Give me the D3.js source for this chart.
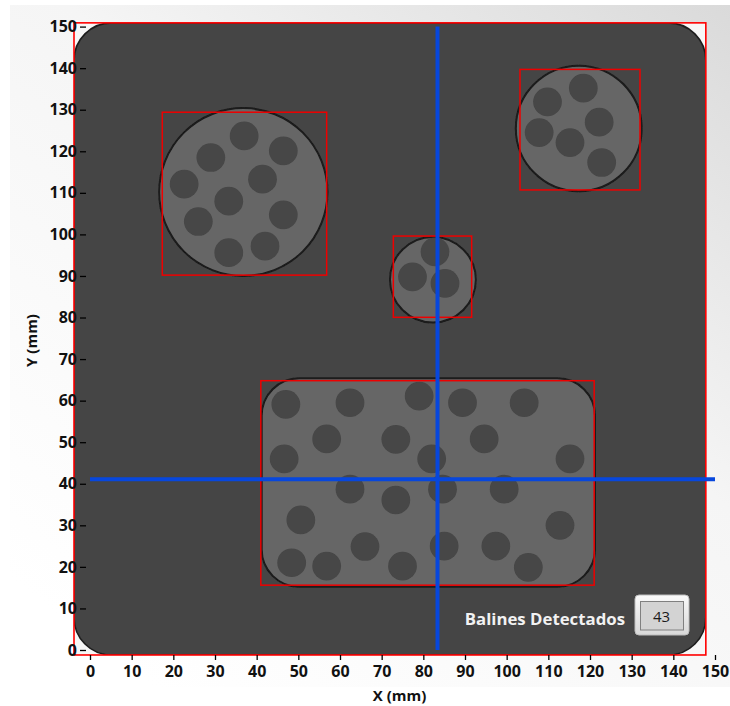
<!DOCTYPE html>
<html><head><meta charset="utf-8">
<script src="https://cdn.jsdelivr.net/npm/d3@7"></script>
<style>html,body{margin:0;padding:0;background:#fff;} svg{display:block;}</style>
</head><body><svg id="c" width="730" height="706"></svg>
<script>
// ---- data (all in mm) ----
const xTicks = [0,10,20,30,40,50,60,70,80,90,100,110,120,130,140,150];
const yTicks = [0,10,20,30,40,50,60,70,80,90,100,110,120,130,140,150];
const trayBounds = [-3.84, -1.2, 147.8, 150.9]; // x0, y0, x1, y1
const circleParts = [ // cx, cy, r
  [36.8, 110.2, 20.2],
  [117.3, 125.5, 15.1],
  [82.3, 89.1, 10.3]
];
const rectParts = [ // x0, y0, x1, y1
  [41.2, 15.2, 121.2, 65.4]
];
const balls = [ // cx, cy
  [37.0,123.7],[46.4,120.1],[29.0,118.5],[41.4,113.3],[22.6,112.1],
  [33.3,108.0],[46.4,104.7],[26.0,103.1],[42.0,97.2],[33.3,95.6],
  [118.4,135.2],[109.8,131.9],[122.2,127.0],[107.8,124.5],[115.2,122.1],[122.8,117.3],
  [82.8,95.8],[77.4,89.8],[85.2,88.2],
  [47.0,59.1],[62.4,59.5],[79.0,61.1],[89.4,59.5],[104.2,59.5],
  [56.8,50.8],[73.4,50.7],[94.6,50.8],
  [46.6,46.0],[82.0,46.0],[115.2,46.0],
  [62.4,38.7],[73.4,36.1],[84.6,38.7],[99.4,38.7],
  [50.6,31.3],[112.8,30.0],
  [66.0,24.9],[85.0,25.0],[97.4,25.0],
  [48.4,21.0],[56.8,20.2],[75.0,20.2],[105.2,19.9]
];
const ballRadius = 3.45;
const detections = [ // x0, y0, x1, y1
  [17.35, 90.2, 56.8, 129.4],
  [103.2, 110.7, 132.0, 139.7],
  [72.8, 80.05, 91.6, 99.6],
  [41.0, 15.6, 121.0, 64.8]
];
const crosshair = [83.4, 41.1];
const countLabel = "Balines Detectados";
const countValue = balls.length; // 43

// ---- drawing ----
const svg = d3.select("#c");
const x = d3.scaleLinear().domain([0,150]).range([90,715]);
const y = d3.scaleLinear().domain([0,150]).range([650,26.6]);
const font = "'Open Sans', 'DejaVu Sans', sans-serif";

const defs = svg.append("defs");
const bg = defs.append("linearGradient").attr("id","bg")
  .attr("x1",0.2).attr("y1",1).attr("x2",1).attr("y2",0);
bg.append("stop").attr("offset",0).attr("stop-color","#ffffff");
bg.append("stop").attr("offset",0.55).attr("stop-color","#f5f5f5");
bg.append("stop").attr("offset",1).attr("stop-color","#dadada");
defs.append("filter").attr("id","soft").attr("x","-20%").attr("y","-20%").attr("width","140%").attr("height","140%")
  .append("feGaussianBlur").attr("stdDeviation",0.7);
const btn = defs.append("linearGradient").attr("id","btn").attr("x1",0).attr("y1",0).attr("x2",0).attr("y2",1);
btn.append("stop").attr("offset",0).attr("stop-color","#fafafa");
btn.append("stop").attr("offset",1).attr("stop-color","#d8d8d8");

svg.append("rect").attr("width",730).attr("height",706).attr("fill","#fff");
svg.append("rect").attr("x",10).attr("y",5).attr("width",720).attr("height",682).attr("fill","url(#bg)");

const fx0 = x(trayBounds[0]), fx1 = x(trayBounds[2]);
const fy0 = y(trayBounds[3]), fy1 = y(trayBounds[1]);
defs.append("clipPath").attr("id","clip").append("rect")
  .attr("x",fx0).attr("y",fy0).attr("width",fx1-fx0).attr("height",fy1-fy0);

const plot = svg.append("g").attr("clip-path","url(#clip)");
plot.append("rect").attr("x",fx0).attr("y",fy0).attr("width",fx1-fx0).attr("height",fy1-fy0).attr("fill","#f7f7f7");
const trayR = x(9) - x(0);
plot.append("rect").attr("x",fx0).attr("y",fy0).attr("width",fx1-fx0).attr("height",fy1-fy0)
  .attr("rx",trayR).attr("ry",trayR).attr("fill","#444444")
  .attr("stroke","#1e1e1e").attr("stroke-width",1.6).attr("filter","url(#soft)");

// parts
plot.selectAll(".cp").data(circleParts).join("ellipse")
  .attr("cx",d=>x(d[0])).attr("cy",d=>y(d[1]))
  .attr("rx",d=>x(d[2])-x(0)).attr("ry",d=>y(0)-y(d[2]))
  .attr("fill","#666666").attr("stroke","#1a1a1a").attr("stroke-width",2).attr("filter","url(#soft)");
const rr = x(9) - x(0);
plot.selectAll(".rp").data(rectParts).join("rect")
  .attr("x",d=>x(d[0])).attr("y",d=>y(d[3]))
  .attr("width",d=>x(d[2])-x(d[0])).attr("height",d=>y(d[1])-y(d[3]))
  .attr("rx",rr).attr("ry",rr)
  .attr("fill","#666666").attr("stroke","#1a1a1a").attr("stroke-width",2).attr("filter","url(#soft)");

// balls
plot.selectAll(".ball").data(balls).join("ellipse")
  .attr("cx",d=>x(d[0])).attr("cy",d=>y(d[1]))
  .attr("rx",x(ballRadius)-x(0)).attr("ry",y(0)-y(ballRadius))
  .attr("fill","#464646").attr("filter","url(#soft)");

// detection boxes
plot.selectAll(".det").data(detections).join("rect")
  .attr("x",d=>x(d[0])).attr("y",d=>y(d[3]))
  .attr("width",d=>x(d[2])-x(d[0])).attr("height",d=>y(d[1])-y(d[3]))
  .attr("fill","none").attr("stroke","#ee0000").attr("stroke-width",1.5);

// legend (inside plot)
svg.append("text").attr("x",625).attr("y",625).attr("text-anchor","end")
  .attr("font-family",font).attr("font-weight","bold").attr("font-size",16.8)
  .attr("fill","#f2f2f2").text(countLabel);
svg.append("rect").attr("x",635).attr("y",595).attr("width",54).attr("height",40).attr("rx",4)
  .attr("fill","url(#btn)").attr("stroke","#bdbdbd").attr("stroke-width",1);
svg.append("rect").attr("x",640.5).attr("y",601.5).attr("width",43).attr("height",28.5)
  .attr("fill","#d3d3d3").attr("stroke","#808080").attr("stroke-width",1);
svg.append("text").attr("x",661.5).attr("y",621.5).attr("text-anchor","middle")
  .attr("font-family",font).attr("font-size",15).attr("fill","#1a1a1a").text(countValue);

// frame
svg.append("rect").attr("x",fx0).attr("y",fy0).attr("width",fx1-fx0).attr("height",fy1-fy0)
  .attr("fill","none").attr("stroke","#ff0000").attr("stroke-width",1.6);

// crosshair
svg.append("line").attr("x1",x(crosshair[0])).attr("x2",x(crosshair[0])).attr("y1",y(150)).attr("y2",y(0))
  .attr("stroke","#0747dd").attr("stroke-width",4);
svg.append("line").attr("x1",x(0)).attr("x2",x(150)).attr("y1",y(crosshair[1])).attr("y2",y(crosshair[1]))
  .attr("stroke","#0747dd").attr("stroke-width",4);

// axes
const xAxis = svg.append("g").attr("transform",`translate(0,${fy1})`)
  .call(d3.axisBottom(x).tickValues(xTicks).tickSize(5).tickPadding(6));
const yAxis = svg.append("g").attr("transform","translate(86,0)")
  .call(d3.axisLeft(y).tickValues(yTicks).tickSize(6).tickPadding(3));
[xAxis,yAxis].forEach(g=>{
  g.select(".domain").remove();
  g.selectAll("line").attr("stroke","#000").attr("stroke-width",1.3);
  g.selectAll("text").attr("font-family",font).attr("font-weight","bold").attr("font-size",16).attr("fill","#111");
});

svg.append("text").attr("x",399.5).attr("y",701).attr("text-anchor","middle")
  .attr("font-family",font).attr("font-weight","bold").attr("font-size",15).attr("fill","#111").text("X (mm)");
svg.append("text").attr("transform","translate(37,340.5) rotate(-90)").attr("text-anchor","middle")
  .attr("font-family",font).attr("font-weight","bold").attr("font-size",15).attr("fill","#111").text("Y (mm)");
</script></body></html>
